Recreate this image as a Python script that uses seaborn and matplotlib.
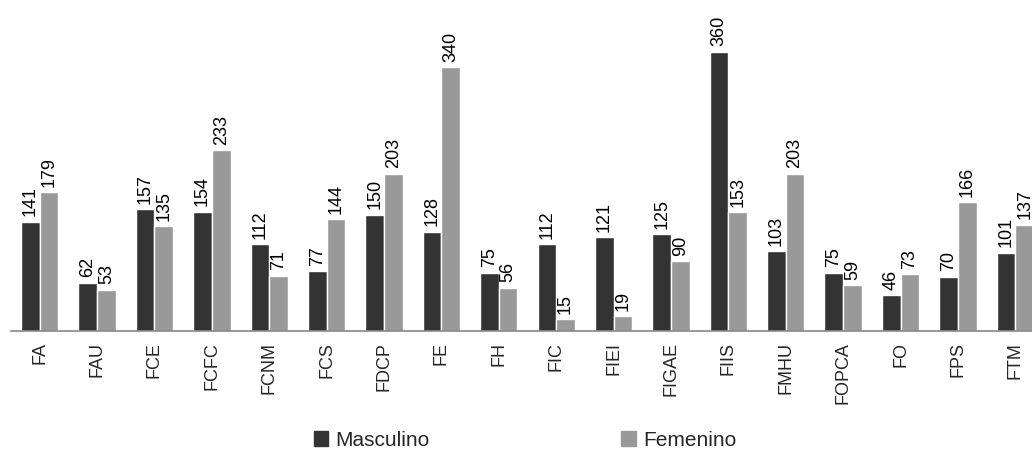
import pandas as pd
import numpy as np
import matplotlib
matplotlib.use("Agg")
import matplotlib.pyplot as plt
import seaborn as sns

# data
facultades = ["FA", "FAU", "FCE", "FCFC", "FCNM", "FCS", "FDCP", "FE", "FH",
              "FIC", "FIEI", "FIGAE", "FIIS", "FMHU", "FOPCA", "FO", "FPS", "FTM"]
masculino = [141, 62, 157, 154, 112, 77, 150, 128, 75, 112, 121, 125, 360, 103, 75, 46, 70, 101]
femenino = [179, 53, 135, 233, 71, 144, 203, 340, 56, 15, 19, 90, 153, 203, 59, 73, 166, 137]

df = pd.DataFrame({
    "Facultad": facultades * 2,
    "Sexo": ["Masculino"] * len(facultades) + ["Femenino"] * len(facultades),
    "Total": masculino + femenino,
})

sns.set_style("white")
plt.rcParams["font.family"] = ["Liberation Sans", "DejaVu Sans"]

fig = plt.figure(figsize=(10.32, 4.5), dpi=100)
ax = fig.add_axes([11 / 1032, 119 / 450, 1033 / 1032, 331 / 450])

sns.barplot(data=df, x="Facultad", y="Total", hue="Sexo", order=facultades,
            palette={"Masculino": "#333333", "Femenino": "#999999"},
            saturation=1, width=0.65, ax=ax, legend=False)

for cont in ax.containers:
    ax.bar_label(cont, rotation=90, padding=4, fontsize=13, color="#000000")

ax.set_xlim(-0.5, len(facultades) - 0.5)
ax.set_ylim(0, 427)
ax.set_xlabel("")
ax.set_ylabel("")
ax.set_yticks([])
for s in ["top", "right", "left"]:
    ax.spines[s].set_visible(False)
ax.spines["bottom"].set_color("#888888")
ax.spines["bottom"].set_linewidth(1.2)

ax.set_xticks(np.arange(len(facultades)))
ax.set_xticklabels(facultades, rotation=90, fontsize=13)
ax.tick_params(axis="x", which="major", length=0, pad=8)
ax.set_xticks(np.arange(len(facultades) + 1) - 0.5, minor=True)
ax.tick_params(axis="x", which="minor", length=5, color="#888888", width=1.2, direction="out")

handles = [plt.Rectangle((0, 0), 1, 1, color="#333333"),
           plt.Rectangle((0, 0), 1, 1, color="#999999")]
fig.legend(handles, ["Masculino", "Femenino"], loc="center", bbox_to_anchor=(525 / 1032, 10 / 450),
           ncol=2, frameon=False, fontsize=15, columnspacing=9.2, handlelength=0.7,
           handleheight=0.7, handletextpad=0.35)

fig.savefig("out.png", dpi=100)
